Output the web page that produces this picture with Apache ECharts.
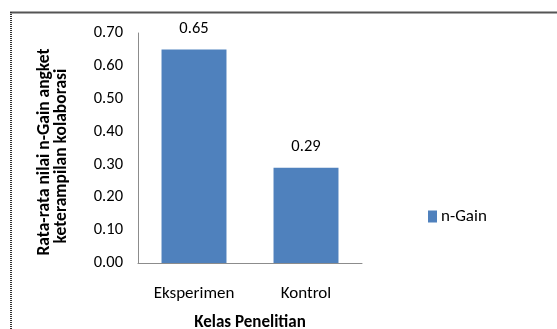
<!DOCTYPE html>
<html>
<head>
<meta charset="utf-8">
<script src="https://cdn.jsdelivr.net/npm/echarts@6/dist/echarts.min.js"></script>
<style>
  html, body { margin: 0; padding: 0; background: #fff; }
  #chart { width: 557px; height: 329px; }
</style>
</head>
<body>
<div id="chart"></div>
<script>
// Mean n-Gain of the collaboration-skills questionnaire per class
const categories = ['Eksperimen', 'Kontrol'];
const nGain = [0.65, 0.29];
const yTicks = ['0.00', '0.10', '0.20', '0.30', '0.40', '0.50', '0.60', '0.70'];
const seriesName = 'n-Gain';
const yTitle = ['Rata-rata nilai n-Gain angket', 'keterampilan kolaborasi'];
const xTitle = 'Kelas Penelitian';

const FONT = 'Carlito, "Liberation Sans Narrow", "DejaVu Sans Condensed", sans-serif';
const chart = echarts.init(document.getElementById('chart'), null, { renderer: 'canvas' });

chart.setOption({
  animation: false,
  backgroundColor: '#ffffff',
  textStyle: { fontFamily: FONT },
  grid: {
    left: 138, top: 33, width: 224, height: 230,
    containLabel: false, outerBoundsMode: 'none'
  },
  legend: {
    data: [seriesName],
    left: 423, top: 203,
    itemWidth: 9, itemHeight: 12, itemGap: 4,
    icon: 'rect',
    textStyle: { fontFamily: FONT, fontSize: 17, color: '#000', padding: [0, 0, 0, -1] }
  },
  xAxis: {
    type: 'category',
    data: categories,
    name: xTitle,
    nameLocation: 'middle',
    nameGap: 51,
    nameTextStyle: { fontFamily: FONT, fontSize: 17, fontWeight: 'bold', color: '#000' },
    axisLine: { lineStyle: { color: '#8c8c8c', width: 1 } },
    axisTick: { show: false },
    axisLabel: { fontFamily: FONT, fontSize: 17, color: '#000', margin: 22 }
  },
  yAxis: {
    type: 'value',
    min: 0, max: 0.7, interval: 0.1,
    axisLine: { show: true, lineStyle: { color: '#8c8c8c', width: 1 } },
    axisTick: { show: false },
    splitLine: { show: false },
    axisLabel: {
      fontFamily: FONT, fontSize: 16.5, color: '#000', margin: 15,
      formatter: (v) => yTicks[Math.round(v * 10)]
    }
  },
  series: [{
    name: seriesName,
    type: 'bar',
    data: nGain,
    barWidth: '58%',
    itemStyle: { color: '#4f81bd' },
    label: {
      show: true, position: 'top', distance: 12,
      fontFamily: FONT, fontSize: 16.5, color: '#000',
      formatter: (p) => p.value.toFixed(2)
    }
  }],
  graphic: [
    // outer frame of the chart area
    { type: 'line', shape: { x1: 10, y1: 12.5, x2: 557, y2: 12.5 }, style: { stroke: '#555', lineWidth: 2 } },
    { type: 'line', shape: { x1: 11, y1: 12, x2: 11, y2: 329 }, style: { stroke: '#333', lineWidth: 2, lineDash: [1, 1] } },
    // y axis title, two rotated lines
    {
      type: 'text', x: 45, y: 152, rotation: Math.PI / 2,
      style: { text: yTitle[0], fontFamily: FONT, fontSize: 17.5, fontWeight: 'bold', fill: '#000', align: 'center', verticalAlign: 'middle' }
    },
    {
      type: 'text', x: 62, y: 156, rotation: Math.PI / 2,
      style: { text: yTitle[1], fontFamily: FONT, fontSize: 17.5, fontWeight: 'bold', fill: '#000', align: 'center', verticalAlign: 'middle' }
    }
  ]
});
</script>
</body>
</html>
